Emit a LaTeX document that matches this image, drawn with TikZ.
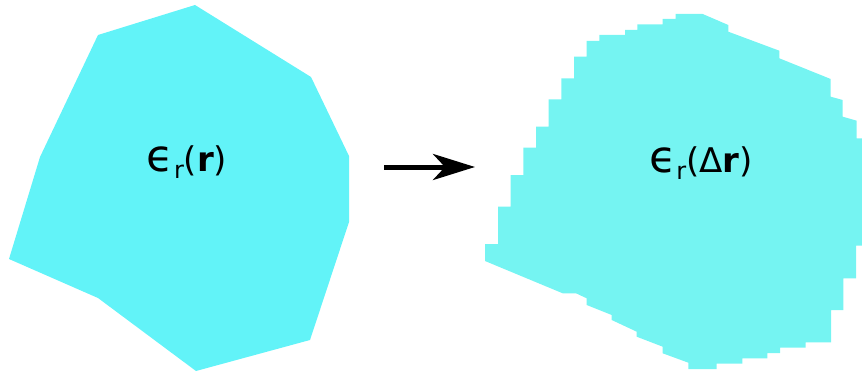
\documentclass[tikz,border=0pt]{standalone}
\usepackage{fontspec}
\setmainfont{DejaVu Sans}
\usepackage{xcolor}
\usetikzlibrary{arrows.meta, positioning}

\definecolor{cyanL}{HTML}{62F3F8}
\definecolor{cyanR}{HTML}{75F4F2}
\newcommand{\lowsub}[1]{\raisebox{-0.22em}{\fontsize{12}{12}\selectfont #1}}
\newcommand{\epsr}{\scalebox{1.3}{ϵ}\lowsub{r}}

\begin{document}
\begin{tikzpicture}[x=0.5pt, y=-0.5pt, >=Stealth,
            lbl/.style={font=\fontsize{17}{17}\selectfont, inner sep=0pt}]
            \useasboundingbox (0,0) rectangle (862,374);

            % smooth scatterer
            \fill[cyanL] (195,5) -- (311,77) -- (349,156) -- (349,222) -- (310,340)
                -- (196,371) -- (98,298) -- (9,259) -- (40,157) -- (98,35) -- cycle;

            % staircased scatterer
            \fill[cyanR] (485,261) -- (562.7,293.3) -- (576,293.3) -- (586.7,298.3)
                -- (586.7,305) -- (611.7,315) -- (611.7,320) -- (636.7,331.7)
                -- (636.7,336.7) -- (662.7,346.7) -- (662.7,353.3) -- (688.3,362.7)
                -- (688.3,369) -- (716.7,369) -- (716.7,363.7) -- (742.3,363.7)
                -- (742.3,358.3) -- (767.3,358.3) -- (767.3,353) -- (780,353)
                -- (780,347.7) -- (805.7,347.7) -- (805.7,342.3) -- (831,342.3)
                -- (831,310) -- (843.3,310) -- (843.3,278.3) -- (856,278.3)
                -- (856,245.7) -- (862,245.7) -- (862,138.3) -- (856.7,138.3)
                -- (856.7,120.7) -- (842.7,116.7) -- (842.7,100) -- (830.7,96.7)
                -- (830.7,79) -- (779.3,58.3) -- (779.3,50.7) -- (728.3,31.7)
                -- (728.3,25) -- (702.7,14) -- (675.7,14) -- (675.7,19)
                -- (662.7,19) -- (662.7,24.3) -- (637.3,24.3) -- (637.3,30)
                -- (625,30) -- (625,35) -- (599.3,35) -- (599.3,41)
                -- (586.7,41) -- (586.7,56.7) -- (574,56.7) -- (574,78.3)
                -- (561.3,78.3) -- (561.3,99.3) -- (548.7,99.3) -- (548.7,126.7)
                -- (536,126.7) -- (536,147.7) -- (523.3,147.7) -- (523.3,175)
                -- (510.7,175) -- (510.7,206.7) -- (498,206.7) -- (498,244)
                -- (485,244) -- cycle;

            \node[lbl] (epsR) at (187,162) {\epsr(\textbf{r})};
            \node[lbl] (epsDR) at (701,163) {\epsr(Δ\textbf{r})};

            \coordinate (arrS) at (384,167);
            \coordinate (arrE) at (475,167);
            \draw[-{Stealth[length=21pt, width=13pt, inset=6pt]}, line width=2.5pt] (arrS) -- (arrE);
        \end{tikzpicture}
\end{document}
